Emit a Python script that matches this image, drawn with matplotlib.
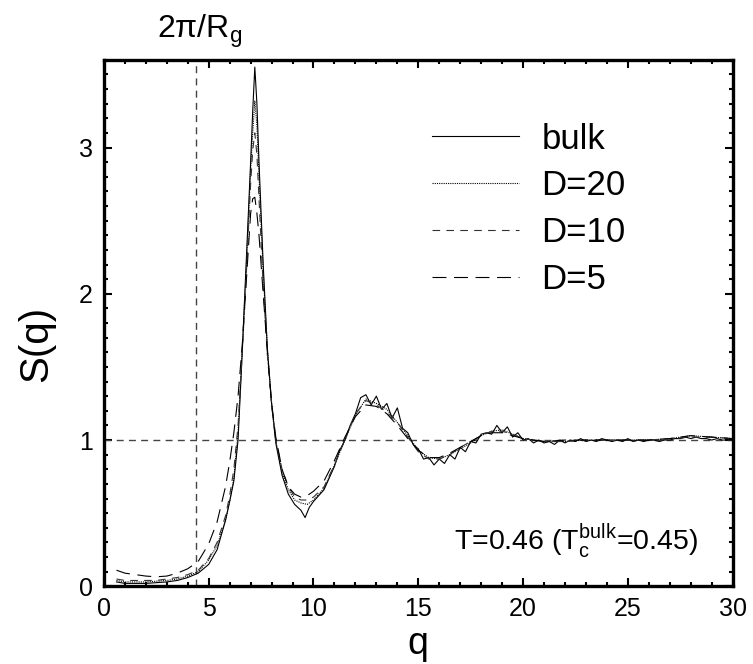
import numpy as np
import matplotlib
matplotlib.use("Agg")
import matplotlib.pyplot as plt

plt.rcParams['font.family'] = ['Liberation Sans', 'DejaVu Sans']
plt.rcParams['lines.scale_dashes'] = False

# bulk curve (finer sampling, noisy)
q_bulk = [0.6, 1.0, 1.5, 2.0, 2.5, 3.0, 3.5, 4.0, 4.5, 5.0, 5.4, 5.8, 6.0, 6.2,
          6.4, 6.6, 6.8, 7.0, 7.1, 7.2, 7.3, 7.4, 7.6, 7.8, 8.0, 8.2, 8.5, 8.8,
          9.1, 9.4, 9.6, 9.8] + list(np.arange(10.0, 30.01, 0.25))
s_bulk = [0.03, 0.02, 0.02, 0.02, 0.025, 0.03, 0.04, 0.06, 0.09, 0.15,
          0.25, 0.45, 0.58, 0.72, 1.0, 1.6, 2.25, 2.9, 3.25, 3.55,
          3.3, 2.9, 2.2, 1.62, 1.25, 0.98, 0.76, 0.63, 0.56, 0.52,
          0.47, 0.54,
          # q = 10 .. 30, step 0.25
          0.58, 0.62, 0.66, 0.74, 0.82, 0.93, 1.00, 1.10, 1.18, 1.29,
          1.31, 1.24, 1.30, 1.21, 1.25, 1.15, 1.22, 1.08, 1.05, 0.97,
          0.94, 0.87, 0.88, 0.83, 0.87, 0.84, 0.90, 0.87, 0.95, 0.92,
          0.99, 0.98, 1.04, 1.05, 1.04, 1.10, 1.05, 1.09, 1.02, 1.05,
          1.00, 1.01, 0.98, 1.00, 0.98, 0.99, 0.97, 1.00, 0.98, 1.00,
          0.99, 1.01, 0.99, 1.00, 0.99, 1.01, 1.00, 0.99, 1.00, 0.99,
          1.01, 0.99, 1.00, 0.99, 1.00, 1.00, 0.99, 1.00, 1.00, 1.01,
          1.01, 1.02, 1.01, 1.02, 1.01, 1.01, 1.00, 1.01, 1.00, 1.00,
          1.00]

# confined films
q_film = [0.6, 1.0, 1.5, 2.0, 2.5, 3.0, 3.5, 4.0, 4.5, 5.0,
          5.4, 5.8, 6.0, 6.2, 6.4, 6.6, 6.8, 7.0, 7.1, 7.2,
          7.3, 7.4, 7.6, 7.8, 8.0, 8.2, 8.5, 8.8, 9.1, 9.4,
          9.7, 10.0, 10.5, 11, 11.5, 12, 12.5, 13, 13.5, 14,
          14.5, 15, 15.5, 16, 16.5, 17, 17.5, 18, 18.5, 19,
          19.5, 20, 21, 22, 23, 24, 25, 26, 27, 28,
          29, 30]
s_d20 = [0.04, 0.03, 0.03, 0.03, 0.035, 0.04, 0.05, 0.07, 0.10, 0.18,
         0.28, 0.45, 0.58, 0.74, 1.05, 1.62, 2.2, 2.85, 3.1, 3.32,
         3.15, 2.8, 2.15, 1.62, 1.26, 1.0, 0.78, 0.66, 0.59, 0.57,
         0.56, 0.59, 0.67, 0.83, 1.0, 1.17, 1.28, 1.25, 1.21, 1.12,
         1.03, 0.93, 0.88, 0.87, 0.9, 0.94, 0.98, 1.03, 1.06, 1.07,
         1.04, 1.01, 0.99, 0.99, 1.0, 1.0, 1.0, 1.0, 1.01, 1.03,
         1.02, 1.01]
s_d10 = [0.05, 0.04, 0.04, 0.04, 0.04, 0.05, 0.06, 0.08, 0.11, 0.19,
         0.30, 0.48, 0.62, 0.80, 1.1, 1.6, 2.15, 2.75, 2.98, 3.1,
         2.95, 2.65, 2.05, 1.58, 1.24, 1.0, 0.8, 0.68, 0.61, 0.59,
         0.59, 0.61, 0.68, 0.83, 1.0, 1.18, 1.27, 1.24, 1.19, 1.12,
         1.02, 0.92, 0.87, 0.87, 0.9, 0.95, 0.99, 1.03, 1.06, 1.06,
         1.04, 1.01, 0.99, 0.99, 1.0, 1.0, 1.0, 1.0, 1.01, 1.02,
         1.02, 1.01]
s_d5 = [0.11, 0.09, 0.08, 0.07, 0.065, 0.07, 0.09, 0.12, 0.17, 0.29,
        0.44, 0.68, 0.85, 1.05, 1.3, 1.65, 2.1, 2.55, 2.65, 2.66,
        2.55, 2.4, 2.0, 1.6, 1.25, 1.02, 0.8, 0.68, 0.63, 0.61,
        0.62, 0.65, 0.72, 0.86, 1.02, 1.16, 1.24, 1.23, 1.18, 1.1,
        1.01, 0.93, 0.88, 0.88, 0.91, 0.95, 0.99, 1.03, 1.05, 1.05,
        1.03, 1.01, 0.99, 1.0, 1.0, 1.0, 1.0, 1.0, 1.01, 1.03,
        1.02, 1.01]

q_rg = 4.4  # 2*pi/Rg

fig = plt.figure(figsize=(7.53, 6.64), dpi=100)
ax = fig.add_axes([0.138, 0.117, 0.835, 0.793])

ax.axvline(q_rg, color='#444444', lw=1.0, dashes=(5, 3.8))
ax.axhline(1.0, color='#444444', lw=1.0, dashes=(5, 3.8))

ax.plot(q_bulk, s_bulk, color='black', lw=0.8, label='bulk')
ax.plot(q_film, s_d20, color='black', lw=0.8, dashes=(0.8, 0.8), label='D=20')
ax.plot(q_film, s_d10, color='#333333', lw=0.8, dashes=(5.5, 4.5), label='D=10')
ax.plot(q_film, s_d5, color='black', lw=0.8, dashes=(10, 5.5), label='D=5')

ax.set_xlim(0, 30)
ax.set_ylim(0, 3.6)
ax.set_xticks([0, 5, 10, 15, 20, 25, 30])
ax.set_yticks([0, 1, 2, 3])
ax.set_xticks(np.arange(0, 30.1, 1), minor=True)
ax.set_yticks(np.arange(0, 3.61, 0.1), minor=True)
ax.tick_params(which='both', direction='in', top=True, right=True,
               labelsize=18, width=1.5, pad=8)
ax.tick_params(which='major', length=6)
ax.tick_params(which='minor', length=3)
for sp in ax.spines.values():
    sp.set_linewidth(2.4)

ax.set_xlabel('q', fontsize=27, labelpad=3)
ax.set_ylabel('S(q)', fontsize=29)
ax.yaxis.set_label_coords(-0.078, 0.46)

ax.text(q_rg + 0.15, 3.67, r'2π/R$_\mathregular{g}$', fontsize=23,
        ha='center', va='bottom')
ax.text(22.5, 0.31, r'T=0.46 (T$_\mathregular{c}^\mathregular{bulk}$=0.45)',
        fontsize=20.5, ha='center', va='center')

ax.legend(loc='upper left', bbox_to_anchor=(0.472, 0.94), frameon=False,
          fontsize=25, handlelength=2.5, handletextpad=0.65, labelspacing=0.4)

fig.savefig('out.png', dpi=100)
